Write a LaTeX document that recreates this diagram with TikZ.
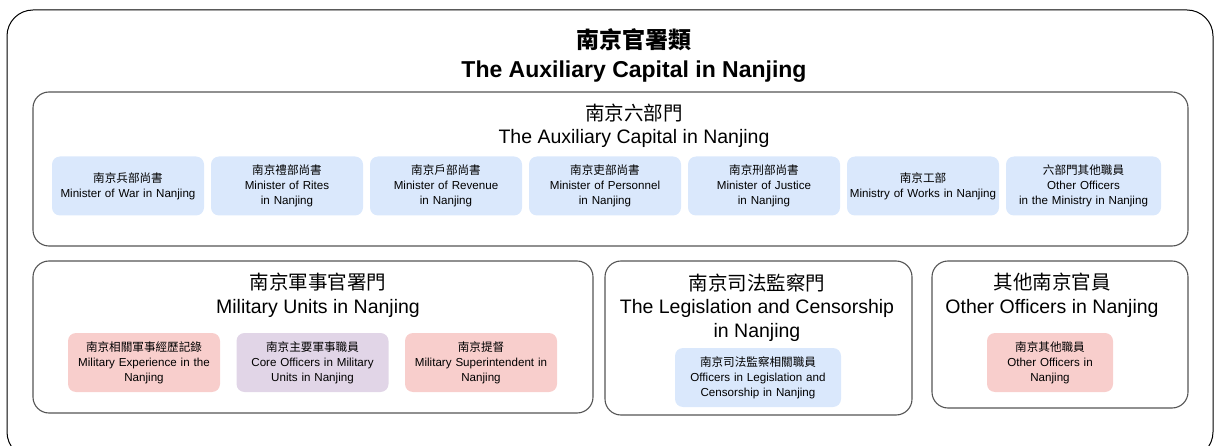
\documentclass[tikz,border=0pt]{standalone}
\usepackage{fontspec}
\setmainfont{Liberation Sans}
\newfontfamily\cjk{Noto Sans CJK TC}
\definecolor{blu}{HTML}{DAE8FC}
\definecolor{pnk}{HTML}{F8CECC}
\definecolor{prp}{HTML}{E1D5E7}
\definecolor{grpc}{HTML}{555555}
\tikzset{
  leaf/.style={rounded corners=8pt, minimum height=59pt, minimum width=152pt, text width=150pt, align=center, inner sep=0pt, font=\fontsize{11.6}{15}\selectfont},
  grpbox/.style={draw=grpc, line width=1.1pt, rounded corners=16pt, inner sep=0pt},
  grptitle/.style={align=center, inner sep=0pt, font=\fontsize{19.5}{23.5}\selectfont},
}
\begin{document}
\begin{tikzpicture}[x=1pt,y=-1pt]
\useasboundingbox (0,0) rectangle (1215,446);
\clip (0,0) rectangle (1215,446);
% outer container
\node[draw=black, line width=1pt, rounded corners=26pt, minimum width=1206pt, minimum height=448pt, inner sep=0pt] (outer) at (610,234) {};
\node[align=center, inner sep=0pt, font=\bfseries\fontsize{23}{29}\selectfont] (title) at (634,55) {{\cjk 南京官署類}\\The Auxiliary Capital in Nanjing};

% six departments
\node[grpbox, minimum width=1155pt, minimum height=154pt] (six) at (610.5,169) {};
\node[grptitle] (sixt) at (634,126) {{\cjk 南京六部門}\\The Auxiliary Capital in Nanjing};
\node[leaf, fill=blu] (war) at (128,186) {{\cjk 南京兵部尚書}\\Minister of War in Nanjing};
\node[leaf, fill=blu] (rites) at (287,186) {{\cjk 南京禮部尚書}\\Minister of Rites\\in Nanjing};
\node[leaf, fill=blu] (rev) at (446,186) {{\cjk 南京戶部尚書}\\Minister of Revenue\\in Nanjing};
\node[leaf, fill=blu] (pers) at (605,186) {{\cjk 南京吏部尚書}\\Minister of Personnel\\in Nanjing};
\node[leaf, fill=blu] (just) at (764,186) {{\cjk 南京刑部尚書}\\Minister of Justice\\in Nanjing};
\node[leaf, fill=blu] (works) at (923,186) {{\cjk 南京工部}\\Ministry of Works in Nanjing};
\node[leaf, fill=blu, minimum width=155pt, text width=153pt] (oth6) at (1083.5,186) {{\cjk 六部門其他職員}\\Other Officers\\in the Ministry in Nanjing};

% military
\node[grpbox, minimum width=560pt, minimum height=152pt] (mil) at (313,337) {};
\node[grptitle] (milt) at (318,295.5) {{\cjk 南京軍事官署門}\\Military Units in Nanjing};
\node[leaf, fill=pnk] (milexp) at (144,362.5) {{\cjk 南京相關軍事經歷記錄}\\Military Experience in the\\Nanjing};
\node[leaf, fill=prp] (core) at (312.5,362.5) {{\cjk 南京主要軍事職員}\\Core Officers in Military\\Units in Nanjing};
\node[leaf, fill=pnk] (supt) at (481,362.5) {{\cjk 南京提督}\\Military Superintendent in\\Nanjing};

% legislation
\node[grpbox, minimum width=307pt, minimum height=154pt] (leg) at (758.5,338) {};
\node[grptitle] (legt) at (757,307.5) {{\cjk 南京司法監察門}\\The Legislation and Censorship\\in Nanjing};
\node[leaf, fill=blu, minimum width=166pt, text width=160pt] (legoff) at (758,377.5) {{\cjk 南京司法監察相關職員}\\Officers in Legislation and\\Censorship in Nanjing};

% other
\node[grpbox, minimum width=256pt, minimum height=147pt] (oth) at (1060,334.5) {};
\node[grptitle] (otht) at (1052,295.5) {{\cjk 其他南京官員}\\Other Officers in Nanjing};
\node[leaf, fill=pnk, minimum width=126pt, text width=120pt] (othoff) at (1050,362.5) {{\cjk 南京其他職員}\\Other Officers in\\Nanjing};
\end{tikzpicture}
\end{document}
